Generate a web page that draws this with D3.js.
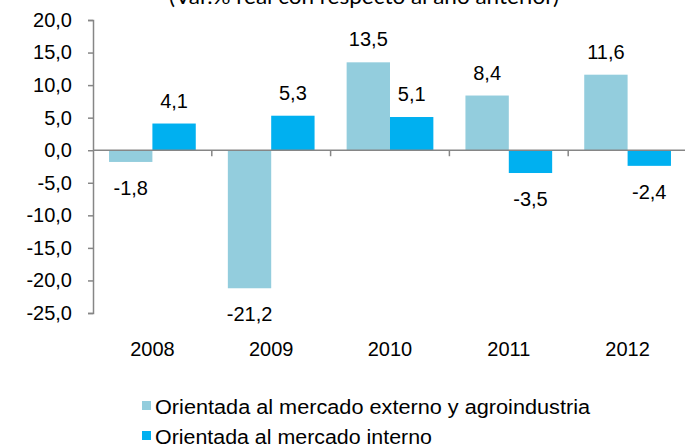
<!DOCTYPE html>
<html>
<head>
<meta charset="utf-8">
<script src="https://cdn.jsdelivr.net/npm/d3@7"></script>
<style>
  body { margin: 0; background: #fff; }
  text { font-family: "Liberation Sans", Arial, sans-serif; fill: #000; }
</style>
</head>
<body>
<svg id="chart" width="685" height="448"></svg>
<script>
// data
var years = ["2008", "2009", "2010", "2011", "2012"];
var externo = [-1.8, -21.2, 13.5, 8.4, 11.6];
var interno = [4.1, 5.3, 5.1, -3.5, -2.4];
var seriesNames = ["Orientada al mercado externo y agroindustria", "Orientada al mercado interno"];
var seriesColors = ["#93cddd", "#00b0f0"];
var yTicks = [20, 15, 10, 5, 0, -5, -10, -15, -20, -25];
var title = "(Var.% real con respecto al año anterior)";

var svg = d3.select("#chart");
// comma decimals, plain hyphen for negatives
var fmt = function (v) { return v.toFixed(1).replace(".", ","); };

var x0 = d3.scaleBand().domain(years).range([93, 687]).paddingInner(0.27).paddingOuter(0.135);
var x1 = d3.scaleBand().domain([0, 1]).range([0, x0.bandwidth()]);
var y = d3.scaleLinear().domain([-25, 20]).range([313, 20]);

// title (cut at the top in the original)
svg.append("text")
    .attr("x", 364).attr("y", 4)
    .attr("text-anchor", "middle")
    .style("font-family", "Lato, 'Open Sans', sans-serif")
    .style("font-size", "21px")
    .attr("textLength", 390).attr("lengthAdjust", "spacingAndGlyphs")
    .text(title);

// y axis
var yAxis = d3.axisLeft(y).tickValues(yTicks).tickSize(5).tickPadding(16).tickFormat(fmt);
var gy = svg.append("g").attr("transform", "translate(93,0)").call(yAxis);
gy.select(".domain").attr("stroke", "#868686").attr("stroke-width", 1.5);
gy.selectAll(".tick line").attr("stroke", "#868686").attr("stroke-width", 1.5);
gy.selectAll(".tick text").style("font-size", "20px").style("font-family", "'Liberation Sans', Arial, sans-serif");

// bars
var rows = years.map(function (yr, i) { return { year: yr, vals: [externo[i], interno[i]] }; });
var groups = svg.selectAll(".grp").data(rows).enter().append("g")
    .attr("class", "grp")
    .attr("transform", function (d) { return "translate(" + x0(d.year) + ",0)"; });

groups.selectAll("rect").data(function (d) { return d.vals; }).enter().append("rect")
    .attr("x", function (d, i) { return x1(i); })
    .attr("width", x1.bandwidth())
    .attr("y", function (d) { return y(Math.max(0, d)); })
    .attr("height", function (d) { return Math.abs(y(d) - y(0)); })
    .attr("fill", function (d, i) { return seriesColors[i]; });

groups.selectAll(".lbl").data(function (d) { return d.vals; }).enter().append("text")
    .attr("class", "lbl")
    .attr("x", function (d, i) { return x1(i) + x1.bandwidth() / 2; })
    .attr("y", function (d) { return d >= 0 ? y(d) - 16 : y(d) + 33; })
    .attr("text-anchor", "middle")
    .style("font-size", "20px")
    .text(fmt);

// zero line and category separators
svg.append("line")
    .attr("x1", 93).attr("x2", 687)
    .attr("y1", y(0)).attr("y2", y(0))
    .attr("stroke", "#868686").attr("stroke-width", 1.5);

svg.selectAll(".sep").data(years.slice(1)).enter().append("line")
    .attr("class", "sep")
    .attr("x1", function (d) { return x0(d) - x0.step() * x0.paddingInner() / 2; })
    .attr("x2", function (d) { return x0(d) - x0.step() * x0.paddingInner() / 2; })
    .attr("y1", y(0)).attr("y2", y(0) + 6)
    .attr("stroke", "#868686").attr("stroke-width", 1.5);

// category labels
svg.selectAll(".yr").data(years).enter().append("text")
    .attr("class", "yr")
    .attr("x", function (d) { return x0(d) + x0.bandwidth() / 2; })
    .attr("y", 356)
    .attr("text-anchor", "middle")
    .style("font-size", "20px")
    .text(function (d) { return d; });

// legend
var legendWidths = [435, 277];
var lg = svg.selectAll(".leg").data(seriesNames).enter().append("g")
    .attr("class", "leg")
    .attr("transform", function (d, i) { return "translate(142," + (414 + i * 30) + ")"; });
lg.append("rect")
    .attr("x", 0).attr("y", -13).attr("width", 9).attr("height", 9)
    .attr("fill", function (d, i) { return seriesColors[i]; });
lg.append("text")
    .attr("x", 13).attr("y", 0)
    .style("font-size", "20px")
    .attr("textLength", function (d, i) { return legendWidths[i]; })
    .attr("lengthAdjust", "spacingAndGlyphs")
    .text(function (d) { return d; });
</script>
</body>
</html>
